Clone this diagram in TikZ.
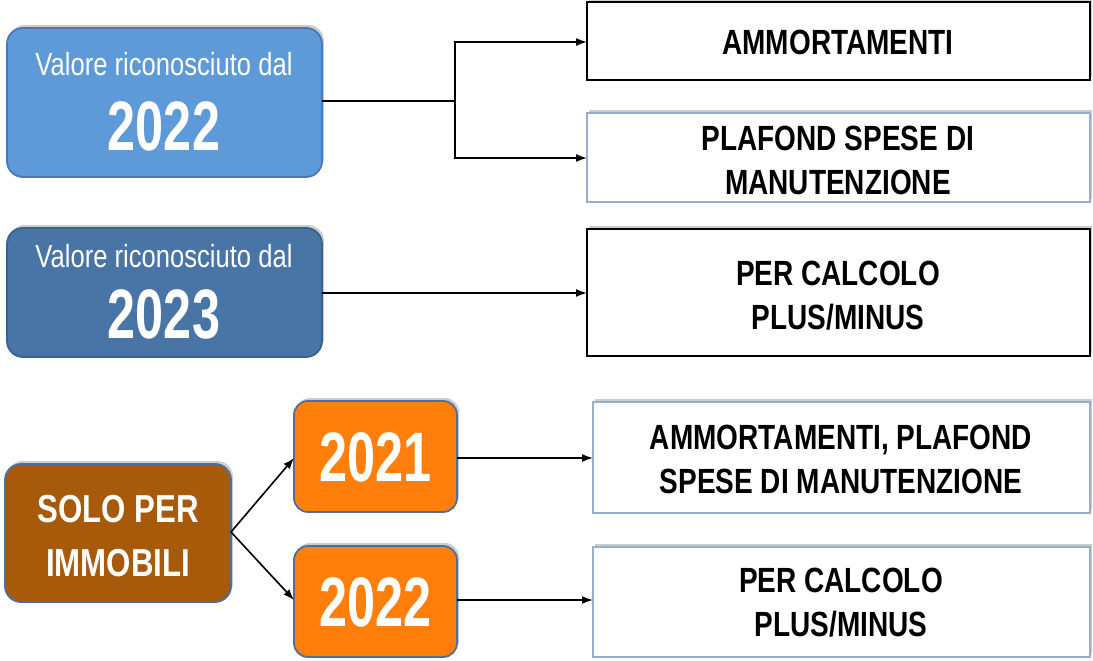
\documentclass[tikz,border=0pt]{standalone}
\usepackage{fontspec}
\setmainfont{Liberation Sans}
\newfontfamily\narrowtxt[FakeStretch=0.8]{Liberation Sans}
\newfontfamily\narrownum[FakeStretch=0.72]{Liberation Sans}
\usetikzlibrary{arrows.meta,shadows}
\definecolor{lblue}{RGB}{94,154,216}
\definecolor{lblueb}{RGB}{74,120,181}
\definecolor{dblue}{RGB}{72,116,166}
\definecolor{dblueb}{RGB}{58,98,142}
\definecolor{brownf}{RGB}{166,90,10}
\definecolor{orangef}{RGB}{255,127,10}
\definecolor{boxb}{RGB}{79,110,160}
\definecolor{lightb}{RGB}{150,175,205}
\begin{document}
\begin{tikzpicture}[x=1pt,y=-1pt,
  shd/.style={drop shadow={shadow xshift=2pt,shadow yshift=3pt,opacity=0.4,fill=gray}},
  leftbox/.style={rounded corners=16pt,line width=1.8pt,shd},
  rbox/.style={draw=black,line width=1.5pt,fill=white,shd},
  rboxl/.style={draw=lightb,line width=1.5pt,fill=white,shd},
  rtxt/.style={font=\narrowtxt\bfseries\fontsize{35}{44}\selectfont,align=center,text=black},
  conn/.style={line width=1.6pt,-{Latex[length=11pt,width=8pt]}},
  plain/.style={line width=1.6pt}]
\useasboundingbox (0,0) rectangle (1093,661);
% left boxes
\draw[leftbox,fill=lblue,draw=lblueb] (7,28) rectangle (322,177);
\node[font=\narrowtxt\fontsize{32}{32}\selectfont,text=white] (atxt) at (164,64) {Valore riconosciuto dal};
\node[font=\narrownum\bfseries\fontsize{70}{70}\selectfont,text=white] (anum) at (164,126) {2022};
\draw[leftbox,fill=dblue,draw=dblueb] (7,228) rectangle (322,357);
\node[font=\narrowtxt\fontsize{32}{32}\selectfont,text=white] (btxt) at (164,256) {Valore riconosciuto dal};
\node[font=\narrownum\bfseries\fontsize{70}{70}\selectfont,text=white] (bnum) at (164,314) {2023};
\draw[leftbox,fill=brownf,draw=boxb] (5,464) rectangle (231,602);
\node[font=\narrowtxt\bfseries\fontsize{39}{54}\selectfont,text=white,align=center] (stxt) at (118,536) {SOLO PER\\IMMOBILI};
\draw[leftbox,rounded corners=14pt,fill=orangef,draw=boxb] (294,401) rectangle (457,512);
\node[font=\narrownum\bfseries\fontsize{70}{70}\selectfont,text=white] (c1) at (375.5,457) {2021};
\draw[leftbox,rounded corners=14pt,fill=orangef,draw=boxb] (294,546) rectangle (457,657);
\node[font=\narrownum\bfseries\fontsize{70}{70}\selectfont,text=white] (c2) at (375.5,602) {2022};
% right boxes
\draw[rbox] (587,2) rectangle (1090,80);
\node[rtxt] (r1) at (838,42) {AMMORTAMENTI};
\draw[rboxl] (587,113) rectangle (1090,202);
\node[rtxt] (r2) at (838,160) {PLAFOND SPESE DI\\MANUTENZIONE};
\draw[rbox] (587,229) rectangle (1090,356);
\node[rtxt] (r3) at (838,296) {PER CALCOLO\\PLUS/MINUS};
\draw[rboxl] (593,402) rectangle (1090,513);
\node[rtxt] (r4) at (841,459) {AMMORTAMENTI, PLAFOND\\SPESE DI MANUTENZIONE};
\draw[rboxl] (593,547) rectangle (1090,657);
\node[rtxt] (r5) at (841,603) {PER CALCOLO\\PLUS/MINUS};
% coordinates
\coordinate (aR) at (322,101);
\coordinate (jn) at (455,101);
\coordinate (e1) at (587,42);
\coordinate (e2) at (587,158);
\coordinate (bR) at (322,293);
\coordinate (e3) at (587,293);
\coordinate (sR) at (231,532);
\coordinate (c1L) at (294,458);
\coordinate (c2L) at (294,600);
\coordinate (c1R) at (457,458);
\coordinate (c2R) at (457,600);
\coordinate (e4) at (593,458);
\coordinate (e5) at (593,600);
% connectors
\draw[plain] (aR) -- (jn);
\draw[conn] (jn) |- (e1);
\draw[conn] (jn) |- (e2);
\draw[conn] (bR) -- (e3);
\draw[conn] (sR) -- (c1L);
\draw[conn] (sR) -- (c2L);
\draw[conn] (c1R) -- (e4);
\draw[conn] (c2R) -- (e5);
\end{tikzpicture}
\end{document}
